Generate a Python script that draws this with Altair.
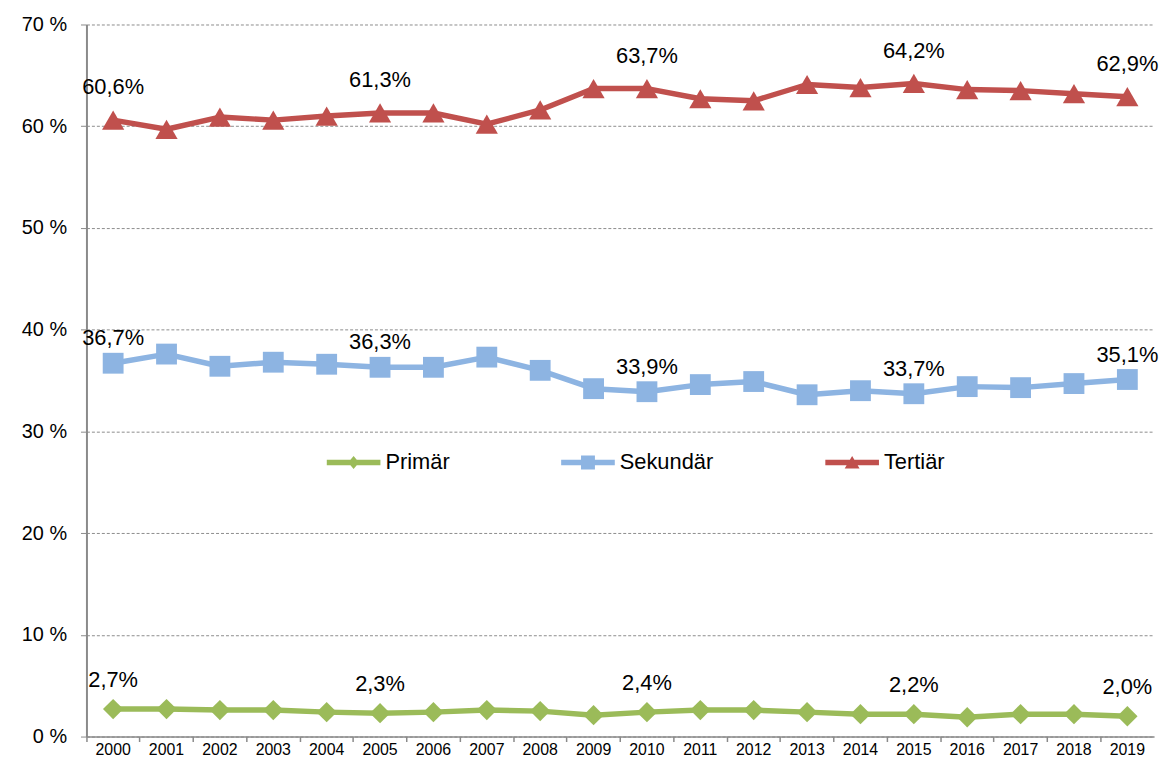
import altair as alt
import pandas as pd

years = list(range(2000, 2020))
series_names = ["Primär", "Sekundär", "Tertiär"]
primar = [2.7, 2.7, 2.6, 2.6, 2.4, 2.3, 2.4, 2.6, 2.5, 2.1,
          2.4, 2.6, 2.6, 2.4, 2.2, 2.2, 1.9, 2.2, 2.2, 2.0]
sekundar = [36.7, 37.6, 36.4, 36.8, 36.6, 36.3, 36.3, 37.3, 36.0, 34.2,
            33.9, 34.6, 34.9, 33.6, 34.0, 33.7, 34.4, 34.3, 34.7, 35.1]
tertiar = [60.6, 59.7, 60.9, 60.6, 61.0, 61.3, 61.3, 60.2, 61.6, 63.7,
           63.7, 62.7, 62.5, 64.1, 63.8, 64.2, 63.6, 63.5, 63.2, 62.9]
label_years = [2000, 2005, 2010, 2015, 2019]
y_ticks = [0, 10, 20, 30, 40, 50, 60, 70]
colors = ["#9BBB59", "#8DB4E2", "#C0504D"]

# styles
marker_shapes = ["diamond", "square", "triangle-up"]
marker_sizes = [420, 440, 500]
label_dy = [-29, -25, -33]
legend_paths = [
    "M-2.7,-0.27L2.7,-0.27L2.7,0.27L-2.7,0.27Z M0,-0.65L0.55,0L0,0.65L-0.55,0Z",
    "M-2.7,-0.27L2.7,-0.27L2.7,0.27L-2.7,0.27Z M-0.7,-0.7L0.7,-0.7L0.7,0.7L-0.7,0.7Z",
    "M-2.7,-0.27L2.7,-0.27L2.7,0.27L-2.7,0.27Z M0,-0.65L0.75,0.6L-0.75,0.6Z",
]

rows = []
for name, vals in zip(series_names, [primar, sekundar, tertiar]):
    for yr, v in zip(years, vals):
        rows.append({"year": str(yr), "series": name, "value": v})
df = pd.DataFrame(rows)

FONT = "Liberation Sans"

x_enc = alt.X(
    "year:O",
    sort=[str(y) for y in years],
    scale=alt.Scale(type="band", paddingInner=0, paddingOuter=0),
    axis=alt.Axis(
        title=None, labelAngle=0, labelFont=FONT, labelFontSize=16, labelColor="#000000",
        domainColor="#8a8a8a", domainWidth=1.5, tickColor="#8a8a8a", tickWidth=1.5,
        tickSize=5, labelPadding=0, bandPosition=0, grid=False,
    ),
)
y_enc = alt.Y(
    "value:Q",
    scale=alt.Scale(domain=[0, 70], nice=False, zero=True),
    axis=alt.Axis(
        title=None, values=y_ticks, labelExpr="datum.value + ' %'",
        labelFont=FONT, labelFontSize=20, labelColor="#000000", labelPadding=14,
        domainColor="#8a8a8a", domainWidth=2, tickColor="#8a8a8a", tickSize=6,
        grid=True, gridColor="#8c8c8c", gridDash=[3, 2], gridWidth=1,
    ),
)
color_scale = alt.Scale(domain=series_names, range=colors)

base = alt.Chart(df).encode(x=x_enc, y=y_enc)

layers = []
layers.append(
    base.mark_line(strokeWidth=5.5, strokeJoin="round").encode(
        color=alt.Color("series:N", scale=color_scale, legend=None),
        detail="series:N",
    )
)
for name, shp, sz in zip(series_names, marker_shapes, marker_sizes):
    layers.append(
        base.transform_filter(alt.datum.series == name)
        .mark_point(shape=shp, size=sz, filled=True, opacity=1)
        .encode(color=alt.Color("series:N", scale=color_scale, legend=None))
    )
for name, dy in zip(series_names, label_dy):
    layers.append(
        base.transform_filter(alt.datum.series == name)
        .transform_filter(alt.FieldOneOfPredicate(field="year", oneOf=[str(y) for y in label_years]))
        .transform_calculate(lbl="replace(format(datum.value, '.1f'), '.', ',') + '%'")
        .mark_text(font=FONT, fontSize=22, color="#000000", dy=dy, baseline="middle", align="center")
        .encode(text="lbl:N")
    )

leg = alt.Legend(
    title=None, orient="none", legendX=258, legendY=430, direction="horizontal",
    labelFont=FONT, labelFontSize=22, labelColor="#000000", symbolSize=400,
    symbolStrokeWidth=0, symbolOpacity=1, labelOffset=21, columnPadding=112, padding=0,
)
layers.append(
    base.mark_point(filled=True, size=0).encode(
        color=alt.Color("series:N", scale=color_scale, legend=leg),
        shape=alt.Shape("series:N", scale=alt.Scale(domain=series_names, range=legend_paths), legend=leg),
    )
)

chart = (
    alt.layer(*layers)
    .resolve_legend(color="independent", shape="independent")
    .properties(
        width=1075, height=717,
        padding={"left": 79, "top": 14, "right": 7, "bottom": 20},
        autosize=alt.AutoSizeParams(type="none"),
        background="#ffffff",
    )
    .configure_view(stroke=None)
)

chart.save("out.html", embed_options={"renderer": "svg", "actions": False})
